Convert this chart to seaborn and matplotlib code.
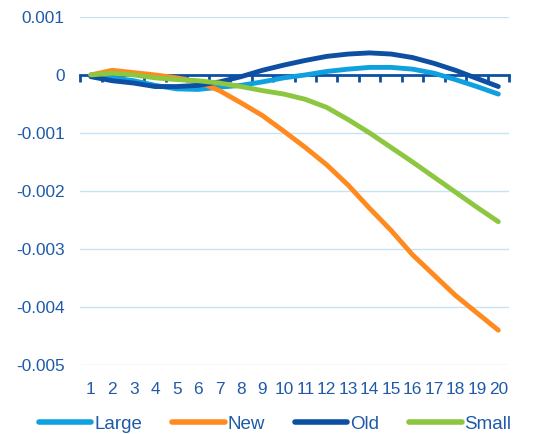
import numpy as np
import pandas as pd
import matplotlib
matplotlib.use("Agg")
import matplotlib.pyplot as plt
import seaborn as sns
from matplotlib.ticker import FixedLocator, FuncFormatter

sns.set_theme(style="white")
plt.rcParams["font.family"] = ["Liberation Sans", "DejaVu Sans"]

# DATA
periods = list(range(1, 21))
large = [0, -0.00005, -0.0001, -0.00018, -0.00024, -0.00025, -0.00021, -0.00018, -0.00012,
         -0.00005, 0.0, 0.00006, 0.0001, 0.00013, 0.00013, 0.0001, 0.00003, -0.00008,
         -0.0002, -0.00033]
new = [0, 0.00008, 0.00004, 0.0, -0.00005, -0.00012, -0.00027, -0.00048, -0.0007,
       -0.00097, -0.00125, -0.00155, -0.0019, -0.0023, -0.00268, -0.0031, -0.00345,
       -0.0038, -0.0041, -0.0044]
old = [-0.00003, -0.0001, -0.00014, -0.0002, -0.0002, -0.00018, -0.00012, -0.00003,
       0.00008, 0.00017, 0.00025, 0.00032, 0.00036, 0.00038, 0.00036, 0.0003, 0.0002,
       0.00008, -0.00006, -0.0002]
small = [0, 0.00003, 0.0, -0.00005, -0.00008, -0.0001, -0.00014, -0.0002, -0.00027,
         -0.00033, -0.00042, -0.00056, -0.00077, -0.001, -0.00125, -0.0015, -0.00176,
         -0.00202, -0.00228, -0.00253]
series_names = ["Large", "New", "Old", "Small"]
colors = ["#0FA0E0", "#FF8A1F", "#0D4FA3", "#8DC63F"]
y_ticks = [0.001, 0, -0.001, -0.002, -0.003, -0.004, -0.005]

df = pd.DataFrame({"period": periods, "Large": large, "New": new, "Old": old, "Small": small})
long = df.melt(id_vars="period", var_name="series", value_name="value")

text_col = "#1F5AA8"

fig = plt.figure(figsize=(5.45, 4.34), dpi=100)
ax = fig.add_axes([0.147, 0.159, 0.787, 0.802])

for yv in y_ticks:
    if yv != 0:
        ax.axhline(yv, color="#C5E3F0", lw=1, zorder=0)

sns.lineplot(data=long, x="period", y="value", hue="series", hue_order=series_names,
             palette=colors, lw=3.5, ax=ax, legend=False, zorder=3)

ax.set_xlim(0.5, 20.5)
ax.set_ylim(-0.005, 0.001)

for s in ["top", "right", "left"]:
    ax.spines[s].set_visible(False)
ax.spines["bottom"].set_position(("data", 0))
ax.spines["bottom"].set_color("#0D4FA3")
ax.spines["bottom"].set_linewidth(2)
ax.spines["bottom"].set_zorder(2)
ax.xaxis.set_major_locator(FixedLocator([p + 0.5 for p in [0] + periods]))
ax.tick_params(axis="x", which="major", bottom=True, direction="out", length=5, width=2,
               color="#0D4FA3", labelbottom=False)

sec = ax.secondary_xaxis("bottom")
sec.set_xticks(periods)
sec.set_xticklabels([str(p) for p in periods])
sec.spines["bottom"].set_visible(False)
sec.tick_params(length=0, labelsize=12.4, labelcolor=text_col, pad=12.5)

ax.set_yticks(y_ticks)
ax.yaxis.set_major_formatter(FuncFormatter(lambda v, _: "0" if abs(v) < 1e-12 else f"{v:.3f}"))
ax.tick_params(axis="y", left=False, length=0, labelsize=12.4, labelcolor=text_col, pad=11)
ax.set_xlabel("")
ax.set_ylabel("")

handles = [plt.Line2D([], [], color=c, lw=4, solid_capstyle="round") for c in colors]
fig.legend(handles, series_names, loc="center", bbox_to_anchor=(0.505, 0.023), ncol=4,
           frameon=False, handlelength=2.8, handletextpad=0.15, columnspacing=1.6,
           prop={"size": 13.5}, labelcolor=text_col)

fig.savefig("out.png", dpi=100)
